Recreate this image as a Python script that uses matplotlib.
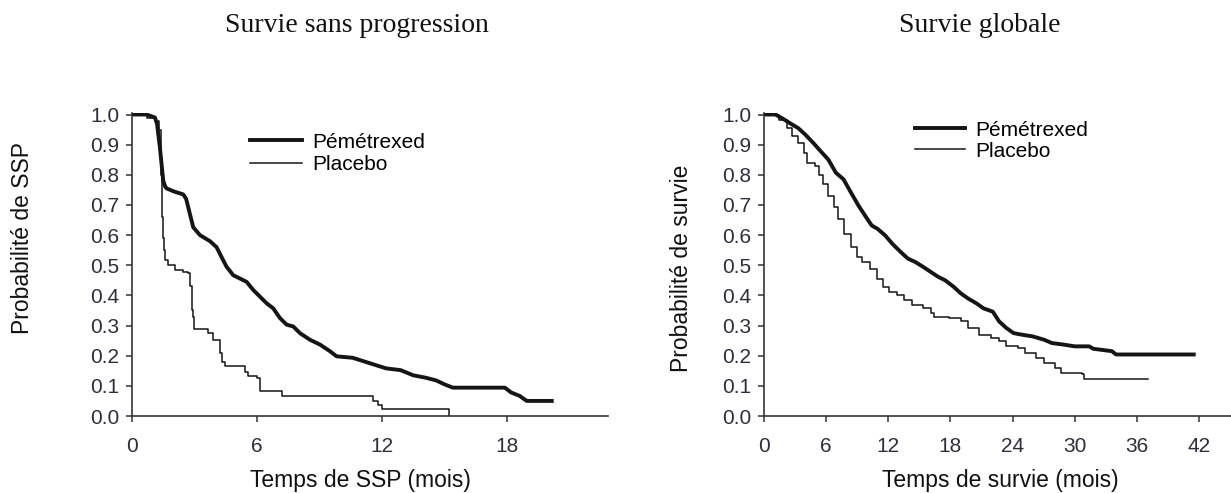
import matplotlib
matplotlib.use('Agg')
import matplotlib.pyplot as plt

# Survie sans progression (SSP), mois / probabilite
pem_ssp_t = [0, 0.7, 1.1, 1.2, 1.34, 1.5, 1.6, 1.66, 2.0, 2.46, 2.6, 2.78, 2.94, 3.26, 3.74, 4.06,
             4.3, 4.54, 4.86, 5.18, 5.5, 5.82, 6.14, 6.46, 6.78, 7.1, 7.42, 7.74, 8.06, 8.54, 9.02,
             9.5, 9.82, 10.6, 11.1, 11.6, 12.2, 12.9, 13.5, 14.1, 14.6, 15.0, 15.4, 17.9, 18.2,
             18.6, 18.95, 20.15]
pem_ssp_s = [1.0, 1.0, 0.99, 0.97, 0.89, 0.78, 0.76, 0.755, 0.745, 0.735, 0.72, 0.67, 0.626, 0.6,
             0.58, 0.56, 0.527, 0.495, 0.467, 0.456, 0.445, 0.418, 0.396, 0.374, 0.357, 0.325,
             0.303, 0.297, 0.275, 0.253, 0.237, 0.215, 0.198, 0.193, 0.182, 0.171, 0.158, 0.152,
             0.135, 0.127, 0.118, 0.105, 0.094, 0.094, 0.078, 0.067, 0.05, 0.05]

pla_ssp_t = [0, 0.7, 1.1, 1.3, 1.4, 1.45, 1.5, 1.55, 1.6, 1.75, 2.06, 2.46, 2.7, 2.78, 2.86, 2.94,
             3.0, 3.66, 3.9, 4.22, 4.3, 4.45, 5.42, 5.58, 5.98, 6.14, 7.18, 11.58, 11.8, 12.0, 15.2]
pla_ssp_s = [1.0, 0.99, 0.98, 0.95, 0.80, 0.66, 0.59, 0.55, 0.516, 0.5, 0.484, 0.478, 0.473, 0.43,
             0.352, 0.33, 0.29, 0.275, 0.253, 0.21, 0.18, 0.166, 0.145, 0.133, 0.127, 0.083, 0.066,
             0.05, 0.035, 0.022, 0.0]

# Survie globale
pem_os_t = [0, 1.1, 1.83, 2.56, 3.3, 4.0, 4.75, 5.48, 6.2, 6.94, 7.68, 8.4, 9.14, 9.87, 10.4,
            10.96, 11.7, 12.4, 13.2, 13.9, 14.6, 15.35, 16.1, 16.8, 17.5, 18.3, 19.0, 19.7, 20.5,
            21.2, 22.1, 22.7, 23.4, 24.1, 24.85, 25.95, 27.05, 27.8, 28.9, 30.0, 31.4, 31.8, 33.6,
            34.0, 41.5]
pem_os_s = [1.0, 1.0, 0.986, 0.97, 0.955, 0.933, 0.906, 0.878, 0.851, 0.807, 0.785, 0.741, 0.697,
            0.659, 0.632, 0.621, 0.599, 0.571, 0.544, 0.522, 0.511, 0.495, 0.478, 0.462, 0.45,
            0.429, 0.407, 0.39, 0.374, 0.357, 0.346, 0.314, 0.292, 0.275, 0.27, 0.264, 0.253,
            0.242, 0.237, 0.231, 0.231, 0.223, 0.215, 0.204, 0.204]

pla_os_t = [0, 0.8, 1.46, 2.2, 2.74, 3.3, 3.84, 4.2, 4.93, 5.3, 5.67, 6.2, 6.76, 7.13, 7.68, 8.4,
            8.95, 9.5, 10.2, 10.96, 11.5, 12.06, 12.8, 13.5, 14.25, 15.35, 16.1, 16.4, 17.9, 19.0,
            19.7, 20.8, 21.9, 22.7, 23.4, 24.5, 25.2, 26.3, 27.05, 28.1, 28.7, 30.7, 30.9, 37.1]
pla_os_s = [1.0, 1.0, 0.982, 0.955, 0.928, 0.906, 0.873, 0.84, 0.829, 0.8, 0.769, 0.73, 0.692,
            0.654, 0.604, 0.56, 0.527, 0.511, 0.489, 0.456, 0.429, 0.412, 0.401, 0.385, 0.368,
            0.357, 0.341, 0.33, 0.325, 0.314, 0.292, 0.27, 0.259, 0.248, 0.231, 0.226, 0.209,
            0.193, 0.177, 0.16, 0.144, 0.138, 0.122, 0.122]

yticks = [0.0, 0.1, 0.2, 0.3, 0.4, 0.5, 0.6, 0.7, 0.8, 0.9, 1.0]
xticks_ssp = [0, 6, 12, 18]
xticks_os = [0, 6, 12, 18, 24, 30, 36, 42]

plt.rcParams['font.family'] = ['Liberation Sans', 'DejaVu Sans']

fig = plt.figure(figsize=(12.31, 4.93), dpi=100)
ax1 = fig.add_axes([132 / 1231, 1 - 416 / 493, 476 / 1231, 303 / 493])
ax2 = fig.add_axes([764 / 1231, 1 - 416 / 493, 467 / 1231, 303 / 493])

ink = '#151515'
tick_col = '#2e2e3c'


def style(ax, xticks, xmax):
    for s in ['top', 'right']:
        ax.spines[s].set_visible(False)
    for s in ['left', 'bottom']:
        ax.spines[s].set_color('#333333')
        ax.spines[s].set_linewidth(1.2)
    ax.set_xlim(0, xmax)
    ax.set_ylim(0, 1.005)
    ax.set_xticks(xticks)
    ax.set_yticks(yticks)
    ax.set_yticklabels(['%.1f' % v for v in yticks])
    ax.tick_params(axis='both', direction='out', length=4, width=1.1, color='#333333',
                   labelsize=15, labelcolor=tick_col)
    ax.tick_params(axis='x', pad=11)
    ax.tick_params(axis='y', pad=5)


style(ax1, xticks_ssp, 22.85)
ax1.plot(pem_ssp_t, pem_ssp_s, color=ink, lw=2.8, solid_joinstyle='round', label='Pémétrexed')
ax1.step(pla_ssp_t, pla_ssp_s, where='post', color=ink, lw=1.1, label='Placebo')
ax1.legend(loc='upper left', bbox_to_anchor=(0.248, 0.935), frameon=False, fontsize=15,
           handlelength=2.5, handletextpad=0.5, labelspacing=0.15, borderpad=0, borderaxespad=0)

style(ax2, xticks_os, 45.1)
ax2.plot(pem_os_t, pem_os_s, color=ink, lw=2.8, solid_joinstyle='round', label='Pémétrexed')
ax2.step(pla_os_t, pla_os_s, where='post', color=ink, lw=1.1, label='Placebo')
ax2.legend(loc='upper left', bbox_to_anchor=(0.323, 0.975), frameon=False, fontsize=15,
           handlelength=2.4, handletextpad=0.5, labelspacing=0.1, borderpad=0, borderaxespad=0)

# titres et axes
fig.text(357 / 1231, 1 - 26 / 493, 'Survie sans progression', family='Liberation Serif',
         fontsize=20, ha='center', va='center', color='#111111')
fig.text(980 / 1231, 1 - 26 / 493, 'Survie globale', family='Liberation Serif',
         fontsize=20, ha='center', va='center', color='#111111')
fig.text(360 / 1231, 1 - 481 / 493, 'Temps de SSP (mois)', fontsize=16.5,
         ha='center', va='center', color='#111111')
fig.text(1000 / 1231, 1 - 481 / 493, 'Temps de survie (mois)', fontsize=16.5,
         ha='center', va='center', color='#111111')
fig.text(22.5 / 1231, 1 - 238 / 493, 'Probabilité de SSP', fontsize=16.5, rotation=90,
         ha='center', va='center', color='#111111')
fig.text(682 / 1231, 1 - 268 / 493, 'Probabilité de survie', fontsize=16.5, rotation=90,
         ha='center', va='center', color='#111111')

fig.savefig('out.png', dpi=100)
